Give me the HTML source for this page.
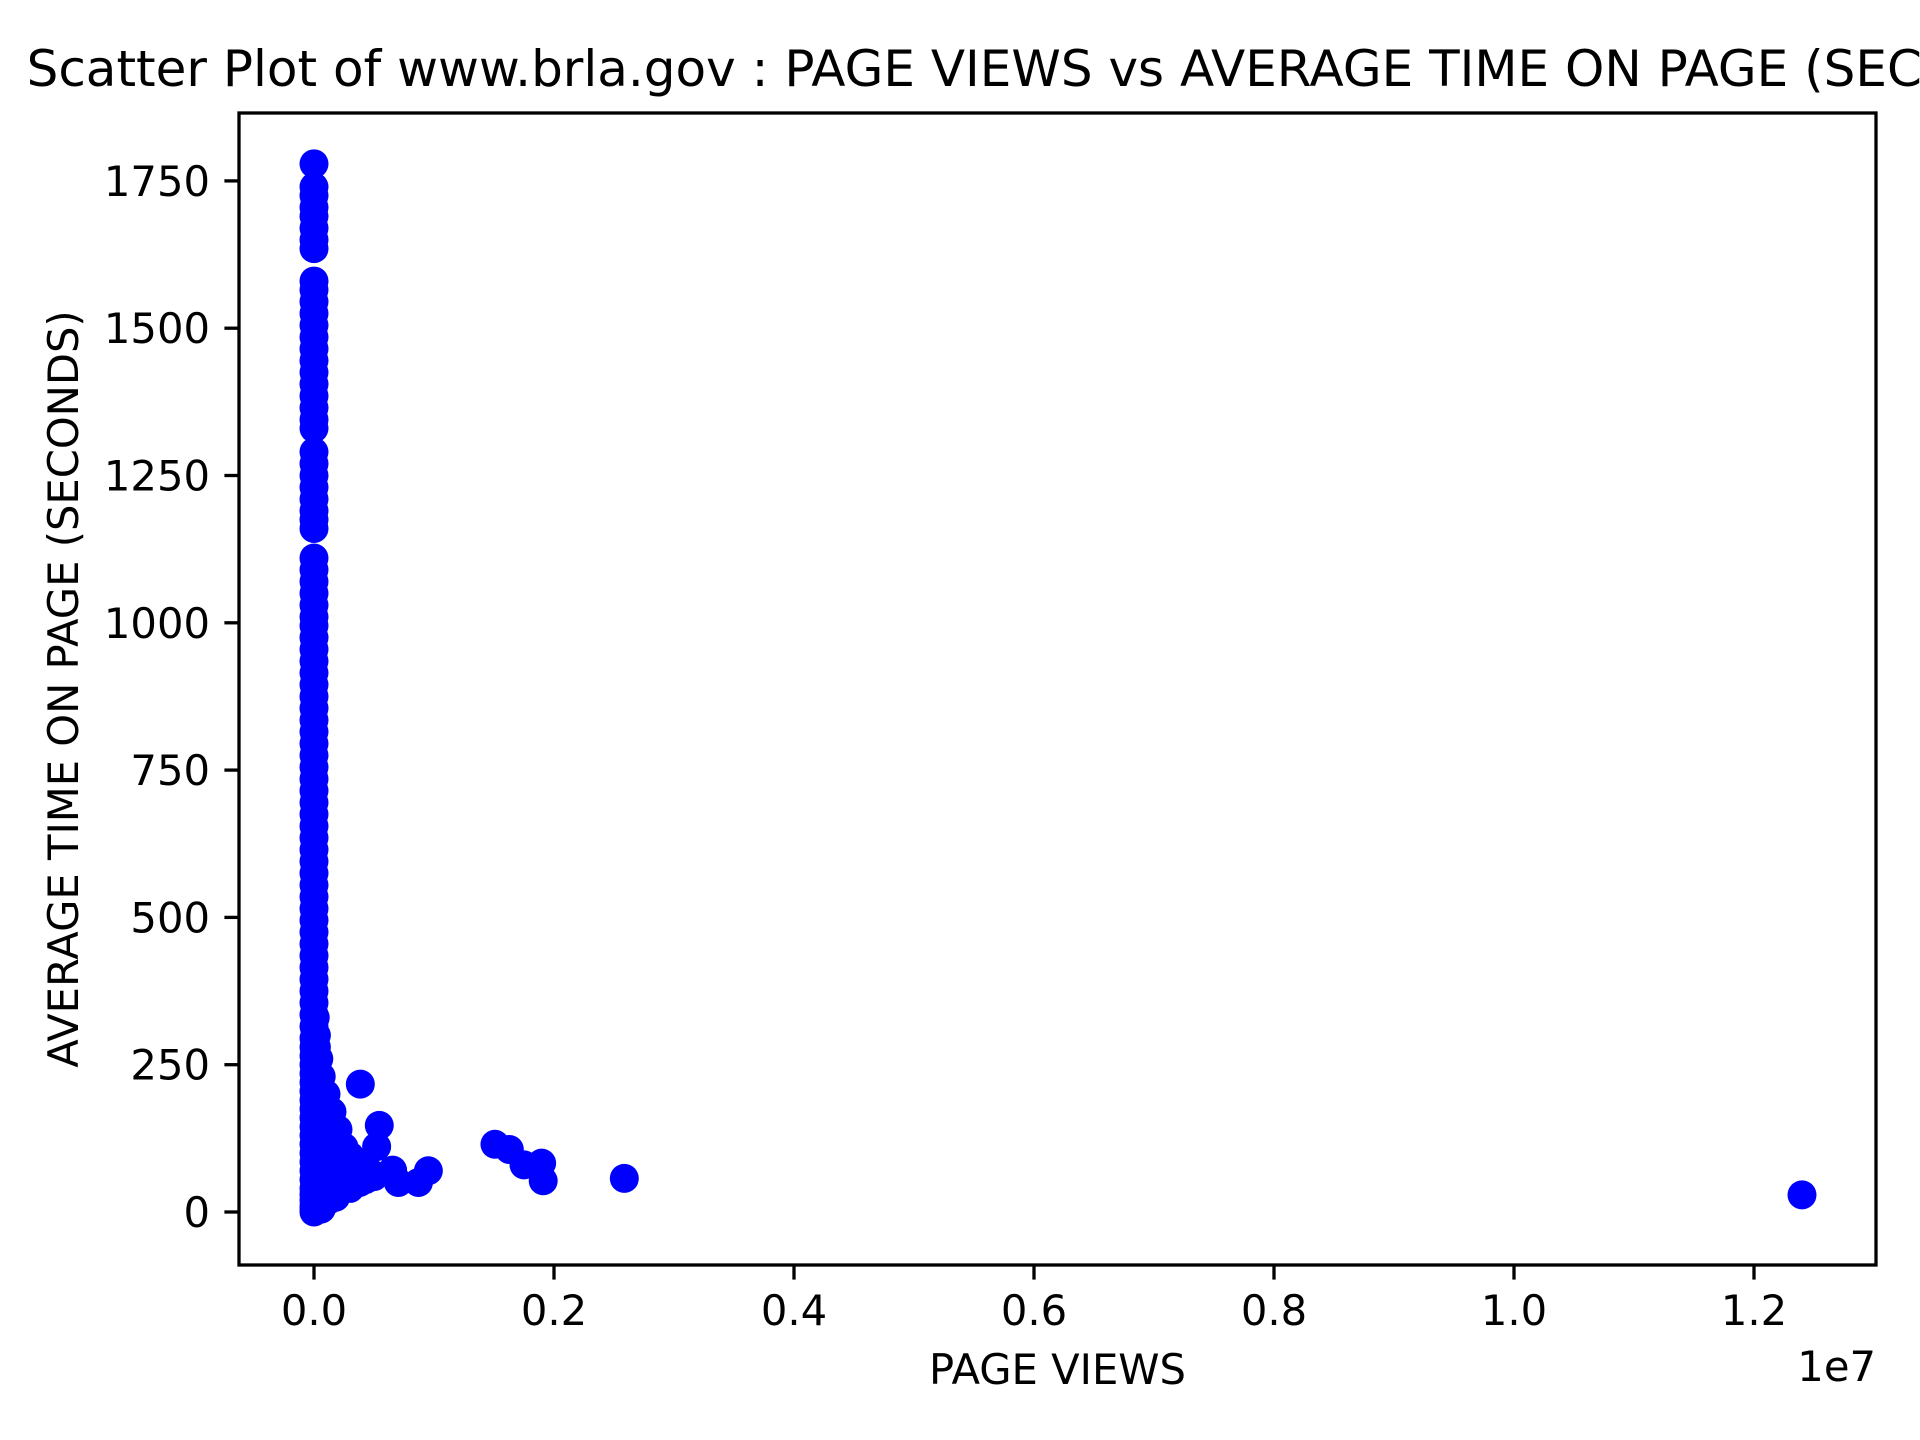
<!DOCTYPE html>
<html><head><meta charset="utf-8"><style>
html,body{margin:0;padding:0;background:#fff}
svg{display:block;font-family:"DejaVu Sans","Liberation Sans",sans-serif}
</style></head><body>
<svg id="chart" width="1920" height="1440" viewBox="0 0 1920 1440" xmlns="http://www.w3.org/2000/svg">
<rect width="1920" height="1440" fill="#fff"/>
<text x="1057.5" y="86" font-size="50" text-anchor="middle" fill="#000">Scatter Plot of www.brla.gov : PAGE VIEWS vs AVERAGE TIME ON PAGE (SECONDS)</text>
<g id="marks"></g>
<g id="axes"></g>
<text x="1057.5" y="1384" font-size="41.7" text-anchor="middle">PAGE VIEWS</text>
<text transform="translate(78,689) rotate(-90)" font-size="41.7" text-anchor="middle">AVERAGE TIME ON PAGE (SECONDS)</text>
<text x="1876" y="1381" font-size="41.7" text-anchor="end">1e7</text>
</svg>
<script>
const colViews = [0,0,0,0,0,0,0,0,0,0,0,0,0,0,0,0,0,0,0,0,0,0,0,0,0,0,0,0,0,0,0,0,0,0,0,0,0,0,0,0,0,0,0,0,0,0,0,0,0,0,0,0,0,0,0,0,0,0,0,0,0,0,0,0,0,0,0,0,0,0,0,0,0,0,0,0,0,0,0,0,0,0,0,0,0,0,0,0,0,0,0,0,0,0];
const colTimes = [1779,1740,1725,1705,1690,1670,1650,1635,1580,1565,1545,1525,1505,1485,1465,1445,1425,1405,1385,1365,1345,1330,1290,1270,1250,1230,1210,1190,1175,1160,1110,1090,1070,1050,1030,1010,995,975,955,935,915,895,875,855,835,815,795,775,755,735,715,695,675,655,635,615,595,575,555,535,515,495,475,455,435,415,395,375,355,335,315,295,280,265,250,235,220,205,190,175,160,145,130,115,100,85,70,55,40,30,20,10,5,0];
const clusterViews = [20000,40000,60000,100000,150000,200000,250000,300000,350000,400000,450000,500000,80000,150000,250000,100000,200000,300000,50000,150000,100000,200000,30000,80000,50000,60000,120000,180000,20000,30000,40000,60000,80000,100000,130000,170000,220000,280000,330000,380000,430000,480000,30000,60000,90000,120000,160000,210000,260000,320000,10000,20000,40000,70000,110000,10000,30000,60000,20000];
const clusterTimes = [300,260,230,200,170,140,110,95,80,70,60,60,120,80,60,40,40,40,20,30,100,90,10,60,150,5,20,25,200,170,140,110,90,70,60,55,55,50,55,50,55,65,230,180,150,130,110,100,80,70,330,280,200,170,140,240,60,40,100];
const outViews = [386000,544000,522000,655000,703000,870000,953000,1508000,1628000,1750000,1897000,1910000,2586000,12400000];
const outTimes = [217,147,111,71,50,50,70,115,106,80,83,53,57,29];
const xTicks = [0,2000000,4000000,6000000,8000000,10000000,12000000];
const xTickLabels = ["0.0","0.2","0.4","0.6","0.8","1.0","1.2"];
const yTicks = [0,250,500,750,1000,1250,1500,1750];
const yTickLabels = ["0","250","500","750","1000","1250","1500","1750"];

const L=239,R=1876,T=113,B=1265;
function xs(v){return 314+v/2000000*240;}
function ys(v){return 1212-v/250*147.3;}
const NS="http://www.w3.org/2000/svg";
const marks=document.getElementById('marks');
function dot(x,y){
  const c=document.createElementNS(NS,'circle');
  c.setAttribute('cx',xs(x));c.setAttribute('cy',ys(y));c.setAttribute('r',14.5);c.setAttribute('fill','#0000ff');
  
  
  marks.appendChild(c);
}
colViews.forEach((v,i)=>dot(v,colTimes[i]));
clusterViews.forEach((v,i)=>dot(v,clusterTimes[i]));
outViews.forEach((v,i)=>dot(v,outTimes[i]));

const axes=document.getElementById('axes');
function el(tag,attrs,txt){const e=document.createElementNS(NS,tag);for(const k in attrs)e.setAttribute(k,attrs[k]);if(txt!==undefined)e.textContent=txt;axes.appendChild(e);return e;}
const frame=el('rect',{x:L,y:T,width:R-L,height:B-T,fill:'none',stroke:'#000','stroke-width':3.3});


xTicks.forEach((v,i)=>{
  const x=xs(v);
  const t=el('line',{x1:x,x2:x,y1:B,y2:B+14.6,stroke:'#000','stroke-width':3.3});
  
  
  const l=el('text',{x:x,y:1325,'font-size':41.7,'text-anchor':'middle'},xTickLabels[i]);
  
  
});
yTicks.forEach((v,i)=>{
  const y=ys(v);
  const t=el('line',{x1:L-14.6,x2:L,y1:y,y2:y,stroke:'#000','stroke-width':3.3});
  
  
  const l=el('text',{x:210,y:y+15,'font-size':41.7,'text-anchor':'end'},yTickLabels[i]);
  
  
});
</script>
</body></html>
